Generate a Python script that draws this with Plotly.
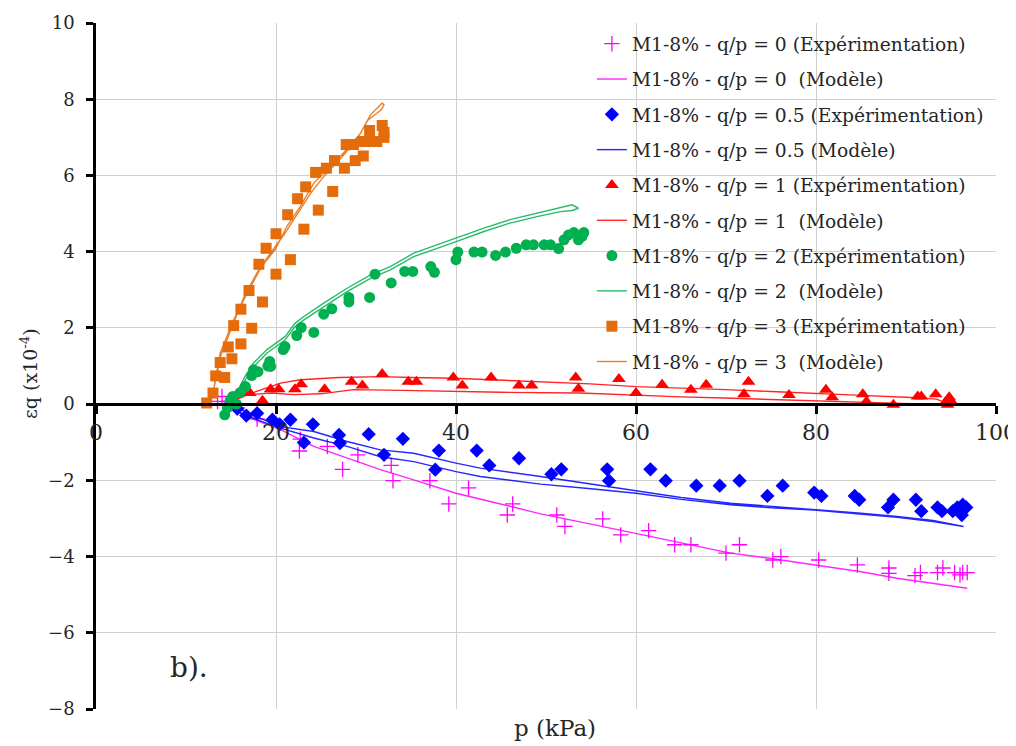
import plotly.graph_objects as go

# ---------------- data ----------------
# q/p = 0 experimental (magenta +)
p0_x = [13.5, 14.0, 15.7, 17.9, 22.7, 22.6, 25.7, 27.4, 29.1, 32.8, 33.0, 37.1, 39.2, 41.4, 45.7, 46.3,
        51.2, 52.1, 56.3, 58.3, 61.4, 64.3, 66.1, 70.0, 71.5, 75.2, 76.1, 80.3, 84.6, 88.1, 88.1, 91.0,
        91.6, 93.5, 94.1, 95.4, 96.0, 96.3, 96.8]
p0_y = [0.07, 0.2, -0.1, -0.39, -0.92, -1.23, -1.11, -1.71, -1.33, -1.61, -2.01, -2.01, -2.62, -2.20, -2.91, -2.62,
        -2.91, -3.21, -3.01, -3.43, -3.32, -3.69, -3.69, -3.91, -3.69, -4.09, -4.0, -4.09, -4.22, -4.30, -4.44, -4.50,
        -4.42, -4.42, -4.30, -4.42, -4.48, -4.42, -4.42]
# q/p = 0 model
m0_x = [14.0, 15.3, 17.5, 20.5, 24.2, 27.9, 31.6, 35.3, 40.0, 44.6, 49.4, 55.0, 60.0, 65.0, 70.5, 75.0, 79.8,
        85.0, 89.0, 93.0, 96.8]
m0_y = [0.1, -0.15, -0.4, -0.67, -1.11, -1.42, -1.72, -1.99, -2.34, -2.60, -2.88, -3.15, -3.40, -3.65, -3.91,
        -4.05, -4.22, -4.40, -4.57, -4.70, -4.83]

# q/p = 0.5 experimental (blue diamonds)
p05_x = [15.7, 16.7, 17.9, 19.6, 20.4, 21.6, 23.1, 24.1, 27.0, 27.1, 30.3, 32.0, 34.1, 37.7, 38.1, 42.3, 43.7,
         47.0, 50.6, 51.7, 56.8, 57.0, 61.6, 63.3, 66.7, 69.3, 71.5, 74.6, 76.3, 79.8, 80.6, 84.3, 84.8, 88.0,
         88.6, 91.1, 91.7, 93.5, 94.0, 95.2, 95.7, 96.3, 96.2, 96.7]
p05_y = [-0.12, -0.30, -0.24, -0.41, -0.53, -0.41, -1.01, -0.53, -0.81, -1.02, -0.79, -1.33, -0.91, -1.72, -1.22,
         -1.22, -1.61, -1.42, -1.84, -1.71, -1.71, -2.01, -1.71, -2.01, -2.14, -2.14, -2.01, -2.41, -2.14, -2.32,
         -2.41, -2.41, -2.51, -2.71, -2.51, -2.51, -2.81, -2.71, -2.81, -2.81, -2.71, -2.64, -2.91, -2.71]
# q/p = 0.5 model (loading then unloading)
m05_x = [14.5, 15.7, 18.0, 20.5, 24.2, 27.9, 31.6, 35.3, 40.0, 42.7, 49.4, 55.0, 60.0, 65.0, 70.5, 75.0, 79.8,
         85.0, 89.0, 93.0, 96.4,
         93.0, 89.0, 85.0, 79.8, 75.0, 70.5, 65.0, 60.0, 55.0, 49.4, 42.7, 40.0, 35.3, 31.6, 27.9, 24.2, 20.5,
         18.0, 15.7, 14.5]
m05_y = [0.05, -0.1, -0.35, -0.59, -0.72, -0.98, -1.20, -1.29, -1.55, -1.68, -1.90, -2.10, -2.29, -2.45, -2.60,
         -2.68, -2.77, -2.86, -2.95, -3.05, -3.21,
         -3.08, -2.97, -2.88, -2.78, -2.72, -2.64, -2.50, -2.34, -2.22, -2.10, -1.90, -1.77, -1.51, -1.38, -1.11,
         -0.89, -0.63, -0.42, -0.2, 0.0]

# q/p = 1 experimental (red triangles)
p1_x = [15.5, 17.1, 18.5, 19.4, 20.3, 22.1, 22.8, 25.4, 28.4, 29.6, 31.8, 34.7, 35.6, 39.7, 40.7, 43.9, 47.0,
        48.4, 53.3, 53.6, 58.1, 60.0, 62.9, 66.1, 67.8, 72.5, 72.0, 77.0, 81.1, 81.8, 85.2, 85.6, 88.6, 91.3,
        91.7, 93.3, 94.4, 94.8, 94.6, 95.1]
p1_y = [0.03, 0.29, 0.09, 0.39, 0.39, 0.39, 0.52, 0.39, 0.59, 0.49, 0.79, 0.59, 0.59, 0.70, 0.49, 0.70, 0.49,
        0.49, 0.70, 0.40, 0.66, 0.29, 0.51, 0.38, 0.51, 0.59, 0.26, 0.24, 0.38, 0.18, 0.26, 0.07, -0.02, 0.20,
        0.20, 0.26, 0.05, 0.18, -0.02, 0.05]
# q/p = 1 model
m1_x = [14.5, 16.8, 19.4, 22.0, 25.0, 28.6, 34.0, 39.7, 45.0, 53.8, 60.0, 65.0, 69.7, 75.0, 79.9, 85.0, 90.0,
        93.4, 95.0,
        93.4, 90.0, 85.0, 79.9, 75.0, 70.0, 65.0, 60.0, 54.9, 50.0, 45.0, 39.7, 35.0, 31.6, 27.0, 22.7, 20.5,
        19.4, 17.0, 15.0]
m1_y = [0.0, 0.24, 0.29, 0.25, 0.27, 0.38, 0.36, 0.33, 0.31, 0.29, 0.23, 0.19, 0.16, 0.12, 0.09, 0.05, 0.0,
        -0.02, -0.02,
        0.13, 0.18, 0.23, 0.29, 0.33, 0.38, 0.42, 0.46, 0.53, 0.58, 0.63, 0.68, 0.70, 0.72, 0.70, 0.64, 0.55,
        0.46, 0.25, 0.1]

# q/p = 2 experimental (green circles)
p2_x = [14.3, 14.6, 14.9, 15.2, 15.6, 16.0, 16.6, 17.3, 17.5, 18.0, 19.1, 19.3, 19.4, 20.8, 21.0, 22.3, 22.8,
        24.2, 25.3, 26.2, 28.1, 28.1, 30.4, 31.0, 32.8, 34.3, 35.2, 37.2, 37.6, 40.0, 40.2, 42.0, 42.9, 44.4,
        45.5, 46.7, 47.8, 48.6, 49.8, 50.5, 51.4, 52.0, 52.5, 53.1, 53.6, 54.0, 54.2]
p2_y = [-0.28, -0.1, 0.1, 0.2, 0.0, 0.3, 0.46, 0.75, 0.9, 0.85, 1.0, 1.12, 0.99, 1.43, 1.51, 1.80, 2.01,
        1.88, 2.36, 2.50, 2.80, 2.68, 2.80, 3.41, 3.18, 3.48, 3.48, 3.61, 3.46, 3.79, 3.99, 3.99, 3.99, 3.90,
        3.99, 4.09, 4.18, 4.18, 4.18, 4.18, 4.08, 4.31, 4.44, 4.50, 4.31, 4.4, 4.5]
# q/p = 2 model
m2_x = [14.2, 15.0, 15.7, 16.5, 17.5, 19.0, 21.0, 22.1, 23.1, 25.3, 27.9, 30.5, 32.7, 35.3, 37.9, 40.1, 43.1,
        46.0, 49.0, 51.6, 52.9, 53.6,
        52.9, 51.6, 49.0, 46.0, 43.1, 40.1, 37.9, 35.3, 32.7, 30.5, 27.9, 25.3, 23.1, 22.1, 21.0, 19.0, 17.5,
        16.5, 15.7, 15.0, 14.2]
m2_y = [-0.24, 0.05, 0.33, 0.7, 1.08, 1.43, 1.77, 2.12, 2.30, 2.65, 3.04, 3.39, 3.61, 3.96, 4.18, 4.36, 4.62,
        4.84, 5.01, 5.14, 5.23, 5.14,
        5.08, 5.05, 4.92, 4.75, 4.53, 4.27, 4.09, 3.87, 3.52, 3.30, 2.95, 2.56, 2.21, 2.03, 1.68, 1.34, 0.98,
        0.6, 0.22, -0.05, -0.24]

# q/p = 3 experimental (orange squares)
p3_x = [12.3, 13.0, 13.3, 14.3, 13.8, 15.1, 14.7, 16.1, 15.3, 17.3, 16.1, 18.5, 17.0, 18.1, 20.0, 18.9, 21.6,
        20.0, 23.1, 21.3, 24.7, 22.4, 26.3, 23.3, 24.4, 25.6, 26.5, 27.6, 28.8, 29.7, 27.8, 28.6, 29.6, 30.5,
        31.2, 30.4, 31.8, 32.0, 32.0]
p3_y = [0.03, 0.29, 0.74, 0.70, 1.09, 1.19, 1.50, 1.58, 2.06, 1.99, 2.49, 2.68, 2.98, 3.67, 3.41, 4.09, 3.79,
        4.47, 4.59, 4.97, 5.09, 5.39, 5.58, 5.70, 6.08, 6.19, 6.39, 6.19, 6.39, 6.51, 6.81, 6.81, 6.89, 6.89,
        6.89, 7.18, 7.31, 7.13, 7.0]
# q/p = 3 model
m3_x = [12.5, 13.0, 13.8, 15.3, 17.0, 18.4, 19.9, 21.2, 22.7, 24.2, 25.7, 27.5, 29.4, 30.5, 31.8, 32.0,
        31.7, 30.2, 29.0, 27.2, 25.4, 23.9, 22.4, 20.9, 19.2, 17.9, 16.5, 15.3, 13.9, 12.9]
m3_y = [0.05, 0.29, 1.34, 2.21, 3.0, 3.61, 4.05, 4.66, 5.19, 5.80, 6.15, 6.59, 7.11, 7.59, 7.90, 7.85,
        7.72, 7.45, 6.95, 6.45, 6.0, 5.55, 5.0, 4.45, 3.9, 3.45, 2.85, 2.15, 1.3, 0.2]

x_ticks = [0, 20, 40, 60, 80, 100]
y_ticks = [-8, -6, -4, -2, 0, 2, 4, 6, 8, 10]

names = ["M1-8% - q/p = 0 (Expérimentation)", "M1-8% - q/p = 0\u00a0 (Modèle)",
         "M1-8% - q/p = 0.5 (Expérimentation)", "M1-8% - q/p = 0.5 (Modèle)",
         "M1-8% - q/p = 1 (Expérimentation)", "M1-8% - q/p = 1\u00a0 (Modèle)",
         "M1-8% - q/p = 2 (Expérimentation)", "M1-8% - q/p = 2\u00a0 (Modèle)",
         "M1-8% - q/p = 3 (Expérimentation)", "M1-8% - q/p = 3\u00a0 (Modèle)"]

MAG, BLUE, RED, GREEN, ORANGE = "#FF00FF", "#0000FF", "#FF0000", "#00B050", "#E46C0A"
FONT = "DejaVu Serif"
TXT = "#262626"

fig = go.Figure()
series = [
    (p0_x, p0_y, m0_x, m0_y, MAG, "cross-thin", 11),
    (p05_x, p05_y, m05_x, m05_y, BLUE, "diamond", 11),
    (p1_x, p1_y, m1_x, m1_y, RED, "triangle-up", 12),
    (p2_x, p2_y, m2_x, m2_y, GREEN, "circle", 11),
    (p3_x, p3_y, m3_x, m3_y, ORANGE, "square", 11),
]
for i, (px, py, mx, my, col, sym, sz) in enumerate(series):
    mk = dict(color=col, symbol=sym, size=sz)
    if sym == "cross-thin":
        mk["line"] = dict(color=col, width=1.3)
    fig.add_trace(go.Scatter(x=px, y=py, mode="markers", name=names[2 * i], marker=mk,
                             legendgroup=f"g{2*i}"))
    fig.add_trace(go.Scatter(x=mx, y=my, mode="lines", name=names[2 * i + 1],
                             line=dict(color=col, width=1.4), opacity=0.85,
                             legendgroup=f"g{2*i+1}"))

# white legend panel: hides gridlines but stays beneath the data marks
fig.add_shape(type="rect", xref="paper", yref="paper", x0=0.549, x1=0.993, y0=0.49, y1=0.997,
              fillcolor="white", line=dict(width=0), layer="between")

# page body has an 8px margin: figure is offset so the plot area lands where the reference has it
fig.update_layout(
    width=1016, height=738,
    margin=dict(l=88, r=28, t=15, b=37, autoexpand=False),
    paper_bgcolor="white", plot_bgcolor="white",
    font=dict(family=FONT, size=18, color=TXT),
    showlegend=True,
    legend=dict(x=0.551, y=0.997, xanchor="left", yanchor="top", bgcolor="rgba(0,0,0,0)",
                font=dict(family=FONT, size=18.7, color=TXT), tracegroupgap=8,
                borderwidth=0),
    xaxis=dict(range=[0, 100], tickvals=x_ticks, showgrid=True, gridcolor="#d0d0d0", gridwidth=1,
               zeroline=False, showline=True, linecolor="black", linewidth=2.5,
               ticks="outside", ticklen=8, tickwidth=2.5, tickcolor="black",
               anchor="free", position=8 / 18, automargin=False, ticklabeloverflow="allow",
               tickfont=dict(family=FONT, size=22, color=TXT)),
    yaxis=dict(range=[-8, 10], tickvals=y_ticks, showgrid=True, gridcolor="#d0d0d0", gridwidth=1,
               zeroline=False, showline=True, linecolor="black", linewidth=2.5,
               ticks="outside", ticklen=7, tickwidth=2.5, tickcolor="black",
               ticklabelstandoff=8, automargin=False,
               tickfont=dict(family=FONT, size=18, color=TXT)),
)

fig.add_annotation(text="p (kPa)", xref="paper", yref="paper", x=0.5, y=0, xshift=9, yshift=-19,
                   showarrow=False, font=dict(family=FONT, size=23, color=TXT),
                   xanchor="center", yanchor="middle")
fig.add_annotation(text="εq (x10<sup>-4</sup>)", xref="paper", yref="paper", x=0, xshift=-67,
                   y=0.5, yshift=-8, textangle=-90, showarrow=False,
                   font=dict(family=FONT, size=19, color=TXT),
                   xanchor="center", yanchor="middle")
fig.add_annotation(text="b).", x=10.3, y=-6.9, xref="x", yref="y", showarrow=False,
                   font=dict(family=FONT, size=28, color=TXT))

fig.write_html("out.html")
